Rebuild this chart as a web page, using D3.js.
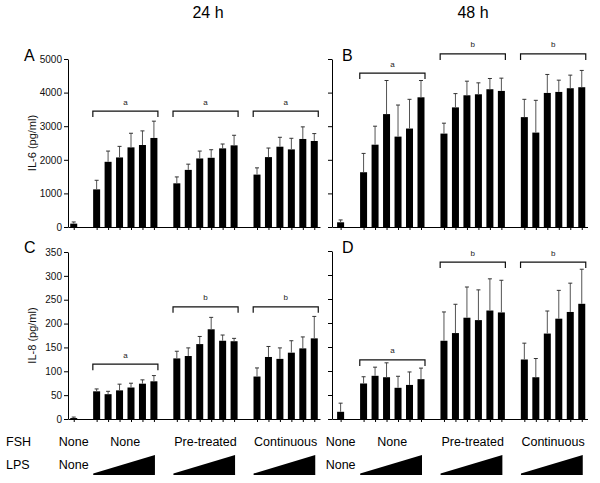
<!DOCTYPE html>
<html><head><meta charset="utf-8">
<script src="https://cdn.jsdelivr.net/npm/d3@7"></script>
<style>body{margin:0;background:#fff}svg{display:block;font-family:"Liberation Sans",Arial,sans-serif}</style>
</head><body><svg id="chart" width="600" height="483"></svg>
<script>
// ---- data ----
const timeLabels = ["24 h", "48 h"];
const panelLetters = ["A", "B", "C", "D"];
const fshLabels = ["None", "None", "Pre-treated", "Continuous"];
const lpsNoneLabel = "None";
const rowLabels = ["FSH", "LPS"];
const il6Ticks = [0, 1000, 2000, 3000, 4000, 5000];
const il8Ticks = [0, 50, 100, 150, 200, 250, 300, 350];
const il6Title = "IL-6 (pg/ml)";
const il8Title = "IL-8 (pg/ml)";

// IL-6, 24 h (panel A): control, then None / Pre-treated / Continuous x 6 LPS doses
const il6_24h     = [100, 1120,1940,2070,2370,2440,2650, 1300,1700,2040,2060,2340,2430, 1560,2080,2390,2310,2620,2560];
const il6_24h_err = [50,  270,320,330,420,420,500,      190,170,220,240,130,300,       200,270,280,330,360,220];
// IL-6, 48 h (panel B)
const il6_48h     = [140, 1630,2450,3360,2690,2930,3860, 2780,3560,3920,3950,4100,4050, 3270,2810,3990,4020,4130,4160];
const il6_48h_err = [70,  560,550,1000,940,870,500,     310,410,420,340,320,380,       530,960,550,350,390,500];
// IL-8, 24 h (panel C)
const il8_24h     = [2, 58,52,60,66,74,79, 127,132,157,188,164,163, 89,130,126,139,148,169];
const il8_24h_err = [2, 5,6,13,9,8,12,    15,17,16,25,12,6,        18,22,23,25,24,46];
// IL-8, 48 h (panel D)
const il8_48h     = [15, 74,90,87,65,71,83, 163,179,211,206,226,222, 124,87,178,209,223,240];
const il8_48h_err = [18, 14,18,30,24,27,23, 60,60,64,63,66,67,       34,39,47,59,60,72];

// significance brackets (level in data units) and letters
const bracketA = [3450, 3450, 3450], lettersA = ["a", "a", "a"];
const bracketB = [4580, 5150, 5150], lettersB = ["a", "b", "b"];
const bracketC = [115, 235, 235],    lettersC = ["a", "b", "b"];
const bracketD = [123, 327, 327],    lettersD = ["a", "b", "b"];

// ---- layout ----
const svg = d3.select("#chart");
const slotOf = i => i === 0 ? 0 : 2 + Math.floor((i - 1) / 6) * 7 + (i - 1) % 6;
const groupSlots = [[0, 0], [2, 7], [9, 14], [16, 21]];

const xLeft = d3.scaleLinear().domain([-0.5, 21.5]).range([68, 320]);
const xRight = d3.scaleLinear().domain([-0.75, 21.5]).range([332, 587.5]);

const panels = [
  {x: xLeft,  y: d3.scaleLinear().domain([0, 5000]).range([227, 59]), ticks: il6Ticks, labels: true,  title: il6Title, vals: il6_24h, err: il6_24h_err, br: bracketA, lt: lettersA, letter: panelLetters[0], lx: 24, ly: 61},
  {x: xRight, y: d3.scaleLinear().domain([0, 5000]).range([227, 59]), ticks: il6Ticks, labels: false, title: null,     vals: il6_48h, err: il6_48h_err, br: bracketB, lt: lettersB, letter: panelLetters[1], lx: 342, ly: 61},
  {x: xLeft,  y: d3.scaleLinear().domain([0, 350]).range([419, 252]), ticks: il8Ticks, labels: true,  title: il8Title, vals: il8_24h, err: il8_24h_err, br: bracketC, lt: lettersC, letter: panelLetters[2], lx: 24, ly: 253},
  {x: xRight, y: d3.scaleLinear().domain([0, 350]).range([419, 251]), ticks: il8Ticks, labels: false, title: null,     vals: il8_48h, err: il8_48h_err, br: bracketD, lt: lettersD, letter: panelLetters[3], lx: 342, ly: 253},
];

const barW = 7;
panels.forEach(p => {
  const g = svg.append("g");
  const y0 = p.y(0);
  // y axis
  const yAx = d3.axisLeft(p.y).tickValues(p.ticks).tickSize(4).tickPadding(2).tickSizeOuter(0)
    .tickFormat(p.labels ? d3.format("d") : "");
  const ya = g.append("g").attr("transform", `translate(${p.x.range()[0]},0)`).call(yAx);
  ya.selectAll("text").attr("font-size", 10).attr("fill", "#111").style("font-family", "Liberation Sans, Arial, sans-serif");
  ya.selectAll("line,path").attr("stroke", "#000");
  // x axis
  const xAx = d3.axisBottom(p.x).tickValues(p.vals.map((d, i) => slotOf(i))).tickSize(3).tickSizeOuter(0).tickFormat("");
  const xa = g.append("g").attr("transform", `translate(0,${y0})`).call(xAx);
  xa.selectAll("line,path").attr("stroke", "#000");

  // bars
  g.selectAll("rect.bar").data(p.vals).join("rect")
    .attr("x", (d, i) => p.x(slotOf(i)) - barW / 2)
    .attr("width", barW)
    .attr("y", d => p.y(d))
    .attr("height", d => y0 - p.y(d))
    .attr("fill", "#000");
  // error bars
  const eb = g.selectAll("g.eb").data(p.vals).join("g");
  eb.append("line")
    .attr("x1", (d, i) => p.x(slotOf(i))).attr("x2", (d, i) => p.x(slotOf(i)))
    .attr("y1", d => p.y(d)).attr("y2", (d, i) => p.y(d + p.err[i]))
    .attr("stroke", "#555").attr("stroke-width", 1);
  eb.append("line")
    .attr("x1", (d, i) => p.x(slotOf(i)) - 2).attr("x2", (d, i) => p.x(slotOf(i)) + 2)
    .attr("y1", (d, i) => p.y(d + p.err[i])).attr("y2", (d, i) => p.y(d + p.err[i]))
    .attr("stroke", "#333").attr("stroke-width", 1);

  // brackets
  p.br.forEach((lvl, k) => {
    const [s0, s1] = groupSlots[k + 1];
    const xa0 = p.x(s0) - 3.8, xa1 = p.x(s1) + 4;
    const yb = p.y(lvl);
    g.append("path")
      .attr("d", `M${xa0},${yb + 6}V${yb}H${xa1}V${yb + 6}`)
      .attr("fill", "none").attr("stroke", "#111").attr("stroke-width", 1.2);
    g.append("text").attr("x", (xa0 + xa1) / 2).attr("y", yb - 6.5)
      .attr("text-anchor", "middle").attr("font-size", 8).attr("fill", "#222").text(p.lt[k]);
  });

  // panel letter
  g.append("text").attr("x", p.lx).attr("y", p.ly).attr("font-size", 16).attr("fill", "#000").text(p.letter);
  // axis title
  if (p.title) {
    const cy = (p.y.range()[0] + p.y.range()[1]) / 2;
    g.append("text").attr("transform", `translate(36,${cy}) rotate(-90)`)
      .attr("text-anchor", "middle").attr("font-size", 11).attr("fill", "#111").text(p.title);
  }
});

// time titles
[[timeLabels[0], 208], [timeLabels[1], 473]].forEach(([t, cx]) => {
  svg.append("text").attr("x", cx).attr("y", 18).attr("text-anchor", "middle")
    .attr("font-size", 16).attr("fill", "#000").text(t);
});

// bottom annotation rows
const fshY = 446, lpsY = 469, rowFont = 12.5;
svg.append("text").attr("x", 6).attr("y", fshY).attr("font-size", rowFont).text(rowLabels[0]);
svg.append("text").attr("x", 6).attr("y", lpsY).attr("font-size", rowFont).text(rowLabels[1]);
[xLeft, xRight].forEach(sc => {
  groupSlots.forEach(([s0, s1], k) => {
    svg.append("text").attr("x", sc((s0 + s1) / 2)).attr("y", fshY)
      .attr("text-anchor", "middle").attr("font-size", rowFont).text(fshLabels[k]);
    if (k === 0) {
      svg.append("text").attr("x", sc(s0)).attr("y", lpsY)
        .attr("text-anchor", "middle").attr("font-size", rowFont).text(lpsNoneLabel);
    } else {
      const xl = sc(s0) - 3.4, xr = sc(s1) + 1;
      const yt = 455, yb = 475;
      svg.append("path").attr("d", `M${xl},${yb}L${xl},${yb - 1.5}L${xr},${yt}L${xr},${yb}Z`).attr("fill", "#000");
    }
  });
});
</script></body></html>
